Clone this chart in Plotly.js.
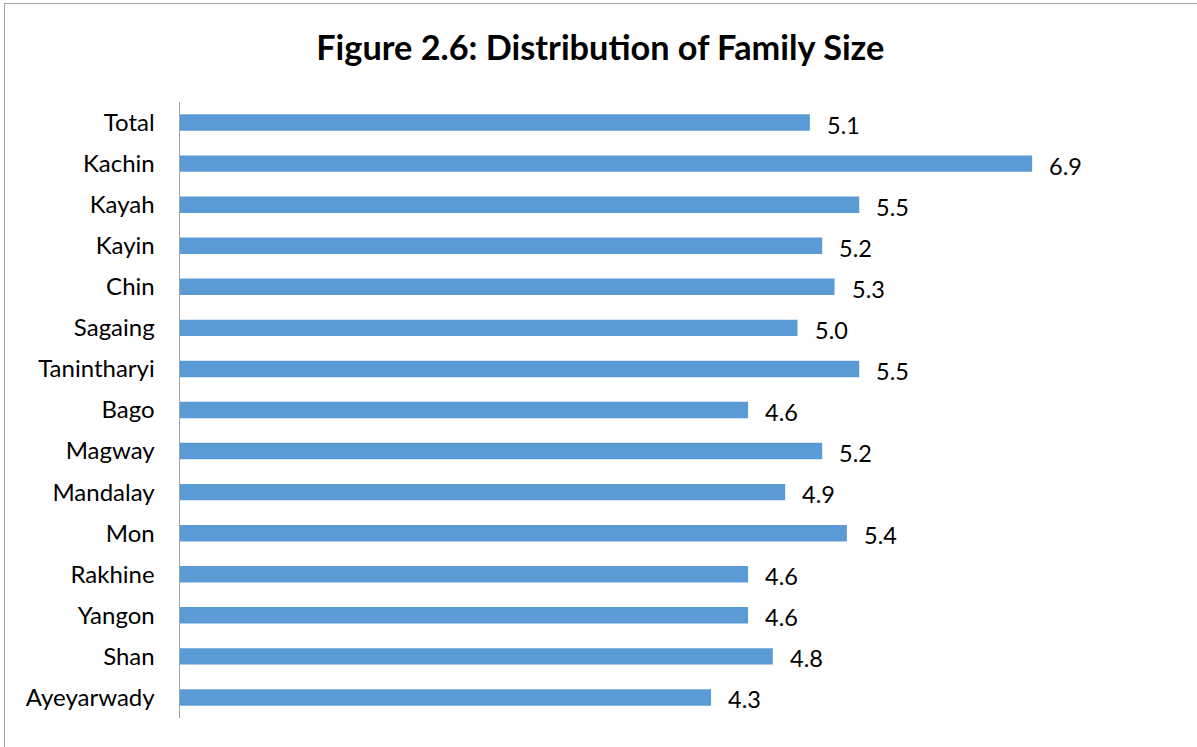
<!DOCTYPE html>
<html>
<head>
<meta charset="utf-8">
<script src="https://cdn.plot.ly/plotly-3.0.1.min.js"></script>
<style>
  html, body { margin: 0; padding: 0; background: #fff; }
  #wrap { position: relative; width: 1197px; height: 747px; overflow: hidden; }
  #chart { position: absolute; left: 0; top: 0; width: 1197px; height: 747px; }
  #frame { position: absolute; left: 4px; top: 3px; width: 1300px; height: 900px;
           border: 1.5px solid #a6a6a6; pointer-events: none; box-sizing: border-box; }
</style>
</head>
<body>
<div id="wrap">
  <div id="chart"></div>
  <div id="frame"></div>
</div>
<script>
const categories = ["Total", "Kachin", "Kayah", "Kayin", "Chin", "Sagaing", "Tanintharyi",
  "Bago", "Magway", "Mandalay", "Mon", "Rakhine", "Yangon", "Shan", "Ayeyarwady"];
const familySize = [5.1, 6.9, 5.5, 5.2, 5.3, 5.0, 5.5, 4.6, 5.2, 4.9, 5.4, 4.6, 4.6, 4.8, 4.3];

const font = "Lato, 'Open Sans', sans-serif";

const trace = {
  type: "bar",
  orientation: "h",
  y: categories,
  x: familySize,
  marker: { color: "#5B9BD5" },
  width: 0.4,
  hoverinfo: "x+y"
};

const annotations = categories.map((c, i) => ({
  x: familySize[i],
  y: c,
  xref: "x",
  yref: "y",
  text: familySize[i].toFixed(1),
  showarrow: false,
  xanchor: "left",
  xshift: 15,
  yshift: -2,
  font: { family: font, size: 23.5, color: "#000" }
}));

const layout = {
  width: 1197,
  height: 747,
  paper_bgcolor: "#fff",
  plot_bgcolor: "#fff",
  showlegend: false,
  margin: { l: 180, r: 29, t: 102, b: 29 },
  title: {
    text: "<b>Figure 2.6: Distribution of Family Size</b>",
    x: 0.5015,
    xanchor: "center",
    y: 0.936,
    yanchor: "middle",
    font: { family: font, size: 34.3, color: "#000" }
  },
  xaxis: {
    range: [0, 8],
    visible: false,
    showgrid: false,
    zeroline: false,
    fixedrange: true
  },
  yaxis: {
    type: "category",
    autorange: "reversed",
    showline: true,
    linecolor: "#a6a6a6",
    linewidth: 1.5,
    ticks: "",
    ticklabelstandoff: 19,
    showgrid: false,
    zeroline: false,
    tickfont: { family: font, size: 24, color: "#000" },
    fixedrange: true
  },
  annotations: annotations
};

Plotly.newPlot("chart", [trace], layout, { displayModeBar: false, staticPlot: true });
</script>
</body>
</html>
